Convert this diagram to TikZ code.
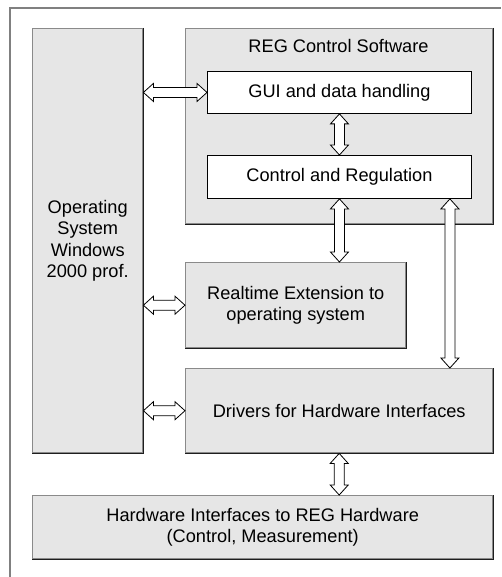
\documentclass[tikz,border=0pt]{standalone}
\usepackage{fontspec}
\setmainfont{Liberation Sans}
\usetikzlibrary{calc}

\definecolor{boxfill}{HTML}{E6E6E6}
\definecolor{litedge}{HTML}{8A8A8A}
\definecolor{darkedge}{HTML}{1E1E1E}
\definecolor{framegray}{HTML}{808080}

% horizontal hollow double arrow between two points (left to right)
\newcommand\harr[2]{%
  \path[blockarrow] let \p1=#1, \p2=#2 in
    (\x1,\y1) -- (\x1+10pt,\y1+9pt) -- (\x1+10pt,\y1+5pt) -- (\x2-10pt,\y1+5pt)
    -- (\x2-10pt,\y1+9pt) -- (\x2,\y1) -- (\x2-10pt,\y1-9pt) -- (\x2-10pt,\y1-5pt)
    -- (\x1+10pt,\y1-5pt) -- (\x1+10pt,\y1-9pt) -- cycle;}
% vertical hollow double arrow between two points (top to bottom)
\newcommand\varr[2]{%
  \path[blockarrow] let \p1=#1, \p2=#2 in
    (\x1,\y1) -- (\x1+9pt,\y1-10pt) -- (\x1+5pt,\y1-10pt) -- (\x1+5pt,\y2+10pt)
    -- (\x1+9pt,\y2+10pt) -- (\x1,\y2) -- (\x1-9pt,\y2+10pt) -- (\x1-5pt,\y2+10pt)
    -- (\x1-5pt,\y1-10pt) -- (\x1-9pt,\y1-10pt) -- cycle;}
% darker lower and right edges of a grey box
\newcommand\darkedges[1]{%
  \draw[darkedge, line width=1.4pt, line cap=square]
    (#1.north east) -- (#1.south east) -- (#1.south west);}

\tikzset{
  txt/.style={font=\fontsize{18.2}{21.5}\selectfont, align=center, text=black},
  greybox/.style={draw=litedge, fill=boxfill, line width=1.4pt, inner sep=0pt,
    anchor=north west, txt},
  whitebox/.style={draw=black, fill=white, line width=0.9pt, inner sep=0pt,
    anchor=north west, txt},
  blockarrow/.style={draw=black, fill=white, line width=0.8pt, line join=miter},
}

\begin{document}
\begin{tikzpicture}[x=1pt, y=-1pt]
\useasboundingbox (0,0) rectangle (501,577);

% outer frame
\draw[framegray, line width=2pt] (10,577) -- (10,8) -- (501,8);

% boxes
\node[greybox, minimum width=110pt, minimum height=424pt] (os) at (32,28)
  {Operating\\System\\Windows\\2000 prof.};
\node[greybox, minimum width=307pt, minimum height=195pt] (reg) at (185,28) {};
\node[txt, anchor=base] (regtitle) at (338.5,53) {REG Control Software};
\node[whitebox, minimum width=264pt, minimum height=42pt] (gui) at (207,71)
  {GUI and data handling};
\node[whitebox, minimum width=264pt, minimum height=43pt] (ctrl) at (207,155)
  {Control and Regulation};
\node[greybox, minimum width=220pt, minimum height=85pt] (rt) at (185,262)
  {Realtime Extension to\\operating system};
\node[greybox, minimum width=307pt, minimum height=84pt] (drv) at (185,368)
  {Drivers for Hardware Interfaces};
\node[greybox, minimum width=460pt, minimum height=63pt] (hw) at (32,495)
  {Hardware Interfaces to REG Hardware\\(Control, Measurement)};

\darkedges{os}
\darkedges{reg}
\darkedges{rt}
\darkedges{drv}
\darkedges{hw}

% connectors
\harr{(os.east |- gui.west)}{(gui.west)}
\varr{(gui.south)}{(ctrl.north)}
\varr{(ctrl.south)}{(ctrl.south |- rt.north)}
\coordinate (ctrlport) at ([xshift=-22pt]ctrl.south east);
\varr{(ctrlport)}{(ctrlport |- drv.north)}
\harr{(os.east |- rt.west)}{(rt.west)}
\harr{(os.east |- drv.west)}{(drv.west)}
\varr{(drv.south)}{(drv.south |- hw.north)}
\end{tikzpicture}
\end{document}
